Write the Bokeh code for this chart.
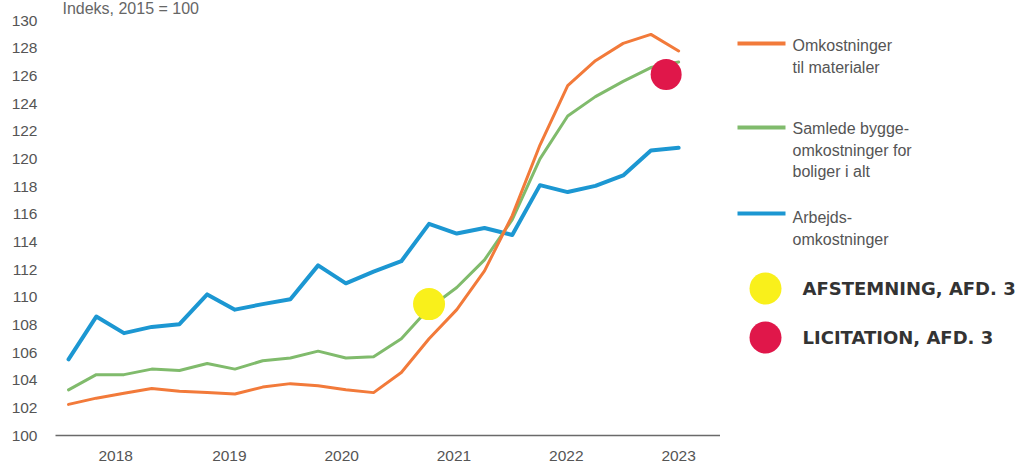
from bokeh.plotting import figure
from bokeh.layouts import row
from bokeh.models import Range1d, FixedTicker, Label, ColumnDataSource
from bokeh.core.properties import value
from bokeh.embed import file_html
from bokeh.resources import INLINE

# ---------------- data ----------------
quarters = ["2017K3", "2017K4",
            "2018K1", "2018K2", "2018K3", "2018K4",
            "2019K1", "2019K2", "2019K3", "2019K4",
            "2020K1", "2020K2", "2020K3", "2020K4",
            "2021K1", "2021K2", "2021K3", "2021K4",
            "2022K1", "2022K2", "2022K3", "2022K4",
            "2023K1"]

materialer = [102.25, 102.7, 103.05, 103.4, 103.2, 103.1, 103.0, 103.5, 103.75, 103.6, 103.3, 103.1,
              104.55, 107.0, 109.1, 111.9, 115.9, 121.0, 125.3, 127.1, 128.35, 129.0, 127.8]
samlede = [103.3, 104.4, 104.4, 104.8, 104.7, 105.2, 104.8, 105.4, 105.6, 106.1, 105.6, 105.7,
           107.0, 109.2, 110.7, 112.7, 115.6, 120.0, 123.1, 124.5, 125.6, 126.6, 127.0]
arbejds = [105.5, 108.6, 107.4, 107.85, 108.05, 110.2, 109.1, 109.5, 109.85, 112.3, 111.0, 111.85,
           112.6, 115.3, 114.6, 115.0, 114.5, 118.1, 117.6, 118.05, 118.8, 120.6, 120.8]

year_labels = ["2018", "2019", "2020", "2021", "2022", "2023"]
y_ticks = list(range(100, 131, 2))

events = ["AFSTEMNING, AFD. 3", "LICITATION, AFD. 3"]
event_x = [13.0, 21.55]
event_y = [109.5, 126.1]

series_names = [["Omkostninger", "til materialer"],
                ["Samlede bygge-", "omkostninger for", "boliger i alt"],
                ["Arbejds-", "omkostninger"]]
y_title = "Indeks, 2015 = 100"

# ---------------- style ----------------
C_ORANGE = "#f27a3a"
C_GREEN = "#80bb6c"
C_BLUE = "#1c97d2"
C_YELLOW = "#f9f01b"
C_RED = "#e0174a"
TXT = "#555555"
FONT = "Liberation Sans"

x = list(range(len(quarters)))
year_tick_pos = [1.7, 5.8, 9.85, 13.9, 17.95, 22.0]

p = figure(width=720, height=466, output_backend="svg", toolbar_location=None,
           x_range=Range1d(-0.47, 23.51), y_range=Range1d(100, 131.45),
           min_border_left=55, min_border_right=0, min_border_top=0, min_border_bottom=31)
p.outline_line_color = None
p.xgrid.grid_line_color = None
p.ygrid.grid_line_color = None
p.background_fill_color = "white"
p.border_fill_color = "white"

p.yaxis.ticker = FixedTicker(ticks=y_ticks)
p.yaxis.axis_line_color = None
p.yaxis.major_tick_line_color = None
p.yaxis.minor_tick_line_color = None
p.yaxis.major_tick_out = 0
p.yaxis.major_label_standoff = 18
p.yaxis.major_label_text_font = FONT
p.yaxis.major_label_text_font_size = "15.5px"
p.yaxis.major_label_text_color = TXT

p.xaxis.ticker = FixedTicker(ticks=year_tick_pos)
p.xaxis.major_label_overrides = {pos: lab for pos, lab in zip(year_tick_pos, year_labels)}
p.xaxis.axis_line_color = "#6a6a6a"
p.xaxis.axis_line_width = 1.5
p.xaxis.major_tick_line_color = None
p.xaxis.minor_tick_line_color = None
p.xaxis.major_tick_out = 0
p.xaxis.major_label_standoff = 15
p.xaxis.major_label_text_font = FONT
p.xaxis.major_label_text_font_size = "15.5px"
p.xaxis.major_label_text_color = TXT

src = ColumnDataSource(dict(x=x, q=quarters, mat=materialer, sam=samlede, arb=arbejds))
p.line("x", "arb", source=src, line_color=C_BLUE, line_width=4, line_join="round", line_cap="round")
p.line("x", "sam", source=src, line_color=C_GREEN, line_width=3, line_join="round", line_cap="round")
p.line("x", "mat", source=src, line_color=C_ORANGE, line_width=3, line_join="round", line_cap="round")

ev = ColumnDataSource(dict(x=event_x, y=event_y, c=[C_YELLOW, C_RED], s=[32, 31]))
p.scatter("x", "y", source=ev, size="s", fill_color="c", line_color=None)

# axis title at the very top edge
p.add_layout(Label(x=-0.22, y=131.45 - 8.0 / 13.82, text=y_title, text_font=FONT, text_font_size="16px",
                   text_color="#666666", text_baseline="alphabetic"))

# ---------------- legend panel ----------------
q = figure(width=311, height=466, output_backend="svg", toolbar_location=None,
           x_range=Range1d(720, 1031), y_range=Range1d(435, 0),
           x_axis_location=None, y_axis_location=None,
           min_border_left=0, min_border_right=0, min_border_top=0, min_border_bottom=31)
q.outline_line_color = None
q.xgrid.grid_line_color = None
q.ygrid.grid_line_color = None

line_y = [43, 127, 213]
line_cols = [C_ORANGE, C_GREEN, C_BLUE]
q.segment(x0=[737] * 3, y0=line_y, x1=[785] * 3, y1=line_y, line_color=line_cols, line_width=4)

text_first_y = [45, 128, 217]
tx, ty, tt = [], [], []
for names, y0 in zip(series_names, text_first_y):
    for i, nm in enumerate(names):
        tx.append(792)
        ty.append(y0 + 21.5 * i)
        tt.append(nm)
q.text(x=tx, y=ty, text=tt, text_font=value(FONT), text_font_size="16px",
       text_color=TXT, text_baseline="middle", text_align="left")

ev_y = [288, 337]
q.scatter(x=[765, 765], y=ev_y, size=32, fill_color=[C_YELLOW, C_RED], line_color=None)
q.text(x=[802, 802], y=ev_y, text=events, text_font=value("DejaVu Sans"), text_font_style="bold",
       text_font_size="18px", text_color="#333333", text_baseline="middle", text_align="left")

layout = row(p, q, spacing=0)
open("out.html", "w").write(file_html(layout, INLINE))
